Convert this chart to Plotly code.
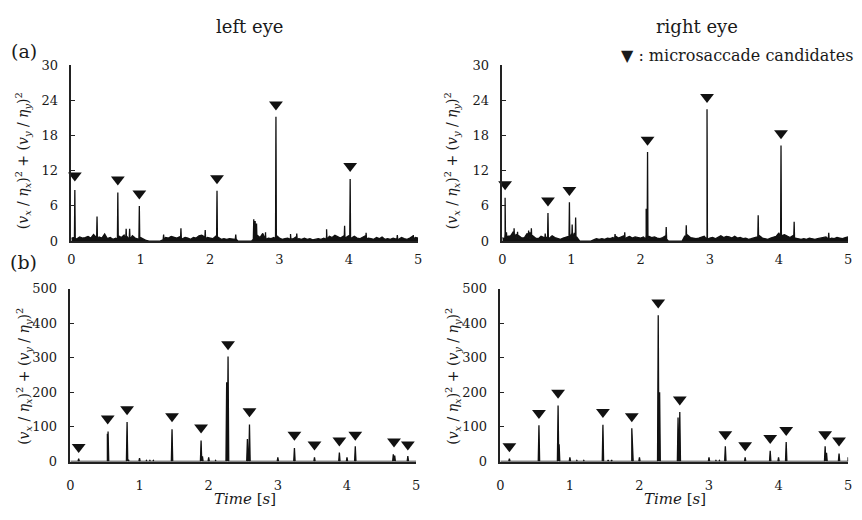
import numpy as np
import plotly.graph_objects as go

# ---------------- data ----------------
GRID_T = np.linspace(0, 5, 126)  # baseline sample times (every 0.04 s)

TL_noise = [0.5, 0.6, 0.4, 0.7, 0.5, 0.6, 0.8, 0.5, 1.1, 0.6, 0.7, 0.5, 1.2, 0.4, 0.6, 0.3,
            0.5, 0.9, 0.6, 1.0, 0.8, 1.2, 0.9, 0.5, 0.4, 0.6, 0.3, 0.1, 0.0, 0.0, 0.0, 0.0,
            0.0, 0.2, 0.6, 0.5, 0.8, 0.6, 0.5, 0.7, 0.4, 0.6, 0.5, 0.3, 0.6, 0.5, 0.9, 1.0,
            0.7, 0.6, 0.5, 0.4, 0.8, 0.6, 0.3, 0.4, 0.3, 0.4, 0.3, 0.2, 0.0, 0.0, 0.0, 0.0,
            0.0, 0.0, 1.2, 1.0, 0.6, 1.3, 1.1, 0.5, 0.4, 0.6, 0.9, 0.5, 0.3, 0.4, 0.5, 0.6,
            0.4, 0.7, 0.4, 0.3, 0.5, 0.3, 0.4, 0.2, 0.3, 0.4, 0.3, 0.5, 0.9, 0.8, 0.6, 1.0,
            0.7, 0.5, 0.8, 0.6, 0.9, 0.5, 0.8, 0.5, 0.4, 0.6, 0.9, 0.5, 0.4, 0.3, 0.6, 0.4,
            0.7, 0.3, 0.4, 0.3, 0.5, 0.4, 0.3, 0.6, 0.4, 0.3, 0.5, 0.8, 0.6, 0.5]
TL_spike_t = [0.05, 0.37, 0.67, 0.79, 0.84, 0.98, 1.33, 1.58, 1.93, 2.10, 2.37, 2.63, 2.65,
              2.67, 2.80, 2.95, 3.16, 3.25, 3.68, 3.94, 4.02, 4.25, 4.70, 4.93]
TL_spike_v = [8.7, 4.2, 8.3, 2.1, 2.1, 6.0, 1.1, 2.2, 1.9, 8.6, 1.1, 3.7, 3.4,
              3.0, 1.5, 21.2, 1.2, 1.3, 2.0, 2.6, 10.6, 1.4, 1.0, 1.0]
TL_cand_t = [0.05, 0.67, 0.98, 2.10, 2.95, 4.02]
TL_cand_y = [11.2, 10.5, 8.1, 10.7, 23.3, 12.8]

TR_noise = [0.6, 1.3, 0.8, 0.9, 1.6, 1.2, 0.9, 0.5, 0.6, 1.3, 1.5, 0.9, 0.5, 0.4, 0.8, 0.6,
            0.7, 0.5, 0.9, 0.6, 0.4, 0.3, 0.5, 0.6, 0.8, 1.2, 1.4, 0.6, 0.0, 0.0, 0.0, 0.0,
            0.0, 0.2, 0.4, 0.3, 0.4, 0.3, 0.5, 0.4, 0.6, 0.8, 0.5, 0.7, 0.9, 0.6, 0.8, 0.5,
            0.7, 0.6, 0.5, 0.7, 1.0, 0.8, 0.6, 0.7, 0.5, 0.4, 0.6, 0.9, 0.0, 0.0, 0.0, 0.0,
            0.0, 0.0, 0.9, 1.0, 0.6, 0.5, 0.4, 0.5, 0.6, 0.8, 0.7, 0.5, 0.6, 0.4, 0.7, 0.9,
            0.6, 0.8, 0.7, 0.5, 0.8, 0.5, 0.6, 0.4, 0.5, 0.3, 0.4, 0.6, 0.7, 0.9, 0.5, 0.4,
            0.3, 0.5, 0.6, 0.8, 1.4, 0.9, 1.1, 0.8, 0.6, 0.9, 0.5, 0.4, 0.3, 0.4, 0.3, 0.5,
            0.4, 0.3, 0.4, 0.5, 0.6, 0.7, 0.9, 0.5, 0.4, 0.6, 0.5, 0.4, 0.6, 0.7]
TR_spike_t = [0.04, 0.06, 0.17, 0.22, 0.38, 0.42, 0.62, 0.66, 0.97, 1.01, 1.06, 1.63, 1.77,
              2.08, 2.10, 2.37, 2.66, 2.96, 3.70, 4.03, 4.22, 4.72]
TR_spike_v = [7.4, 1.5, 2.2, 1.6, 1.8, 2.2, 1.3, 4.8, 6.6, 2.8, 4.0, 1.2, 1.5,
              5.5, 15.2, 2.4, 2.7, 22.5, 4.4, 16.3, 3.3, 1.4]
TR_cand_t = [0.04, 0.66, 0.97, 2.10, 2.96, 4.03]
TR_cand_y = [9.7, 6.9, 8.7, 17.3, 24.6, 18.4]

BL_spike_t = [0.12, 0.535, 0.545, 0.82, 0.84, 1.00, 1.10, 1.15, 1.20, 1.47, 1.89, 1.91, 2.00,
              2.10, 2.26, 2.28, 2.56, 2.59, 3.00, 3.24, 3.53, 3.89, 4.00, 4.12, 4.67, 4.69, 4.88]
BL_spike_v = [8, 80, 87, 114, 5, 10, 3, 3, 3, 93, 61, 15, 12,
              3, 229, 304, 65, 107, 12, 39, 12, 26, 12, 44, 21, 17, 16]
BL_cand_t = [0.12, 0.54, 0.82, 1.47, 1.89, 2.28, 2.59, 3.24, 3.53, 3.89, 4.12, 4.68, 4.88]
BL_cand_y = [42, 124, 151, 131, 98, 339, 145, 77, 49, 61, 77, 58, 49]

BR_spike_t = [0.13, 0.555, 0.83, 0.845, 1.00, 1.10, 1.20, 1.475, 1.55, 1.60, 1.89, 1.90, 2.00,
              2.27, 2.29, 2.555, 2.58, 3.00, 3.10, 3.15, 3.235, 3.52, 3.88, 4.00, 4.11, 4.67,
              4.69, 4.87, 5.00]
BR_spike_v = [8, 105, 162, 50, 12, 3, 3, 106, 4, 4, 96, 40, 12,
              423, 200, 127, 143, 12, 3, 3, 44, 12, 31, 12, 56, 44,
              25, 23, 12]
BR_cand_t = [0.13, 0.555, 0.83, 1.475, 1.89, 2.27, 2.58, 3.235, 3.52, 3.88, 4.11, 4.67, 4.87]
BR_cand_y = [44, 140, 199, 143, 131, 460, 179, 79, 47, 68, 91, 79, 61]

X_TICKS = [0, 1, 2, 3, 4, 5]
Y_TICKS_A = [0, 6, 12, 18, 24, 30]
Y_TICKS_B = [0, 100, 200, 300, 400, 500]

# ---------------- helpers ----------------
def build_series(noise, st, sv, dw, base):
    pts = []
    if noise is not None:
        pts += list(zip(GRID_T.tolist(), noise))
    else:
        pts += [(0.0, 0.0), (5.0, 0.0)]
    for t, v in zip(st, sv):
        pts += [(t - dw, base), (t, v), (t + dw, base)]
    pts.sort()
    return [p[0] for p in pts], [p[1] for p in pts]

SERIF = "DejaVu Serif"
INK = "#1a1a1a"

W, H = 862, 520
def xd(a, b):
    return [a / W, b / W]
def yd(top, bottom):
    return [1 - bottom / H, 1 - top / H]

panels = [
    dict(noise=TL_noise, st=TL_spike_t, sv=TL_spike_v, ct=TL_cand_t, cy=TL_cand_y,
         dw=0.006, base=0.3, xdom=xd(68, 418), ydom=yd(60, 241), yr=[0, 30], yt=Y_TICKS_A),
    dict(noise=TR_noise, st=TR_spike_t, sv=TR_spike_v, ct=TR_cand_t, cy=TR_cand_y,
         dw=0.006, base=0.3, xdom=xd(503, 852), ydom=yd(60, 241), yr=[0, 30], yt=Y_TICKS_A),
    dict(noise=None, st=BL_spike_t, sv=BL_spike_v, ct=BL_cand_t, cy=BL_cand_y,
         dw=0.01, base=0.0, xdom=xd(67, 416), ydom=yd(290, 468), yr=[0, 500], yt=Y_TICKS_B),
    dict(noise=None, st=BR_spike_t, sv=BR_spike_v, ct=BR_cand_t, cy=BR_cand_y,
         dw=0.01, base=0.0, xdom=xd(501, 852), ydom=yd(290, 468), yr=[0, 500], yt=Y_TICKS_B),
]

fig = go.Figure()
layout = dict(
    width=W, height=H, margin=dict(l=0, r=0, t=0, b=0),
    paper_bgcolor="white", plot_bgcolor="white", showlegend=False,
    font=dict(family=SERIF, color=INK, size=13),
)

for i, p in enumerate(panels):
    n = "" if i == 0 else str(i + 1)
    xs, ys = build_series(p["noise"], p["st"], p["sv"], p["dw"], p["base"])
    fig.add_trace(go.Scatter(x=xs, y=ys, mode="lines", line=dict(color="#111", width=1.3),
                             fill="tozeroy", fillcolor="#111",
                             xaxis="x" + n, yaxis="y" + n, hoverinfo="skip"))
    fig.add_trace(go.Scatter(x=p["ct"], y=p["cy"], mode="markers",
                             marker=dict(symbol="triangle-down", size=12, color="#111"),
                             xaxis="x" + n, yaxis="y" + n, cliponaxis=False))
    bottom = i >= 2
    layout["xaxis" + n] = dict(domain=p["xdom"], anchor="y" + n, range=[0, 5],
                               tickvals=X_TICKS, ticks="", showgrid=False, zeroline=False,
                               showline=True, linecolor="#222", linewidth=1.5,
                               tickfont=dict(size=13, family=SERIF, color=INK),
                               ticklabelstandoff=11 if bottom else 6)
    layout["yaxis" + n] = dict(domain=p["ydom"], anchor="x" + n, range=p["yr"],
                               tickvals=p["yt"], ticks="inside", ticklen=4, tickwidth=1,
                               tickcolor="#222", showgrid=False, zeroline=False,
                               showline=True, linecolor="#222", linewidth=1.5,
                               tickfont=dict(size=13, family=SERIF, color=INK),
                               ticklabelstandoff=9)

ytitle = ("(<i>v</i><sub><i>x</i></sub> / <i>η</i><sub><i>x</i></sub>)<sup>2</sup> + "
          "(<i>v</i><sub><i>y</i></sub> / <i>η</i><sub><i>y</i></sub>)<sup>2</sup>")

def ann(x, y, text, size, fam=SERIF, **kw):
    d = dict(x=x / W, y=1 - y / H, xref="paper", yref="paper", text=text, showarrow=False,
             font=dict(size=size, family=fam, color=INK), xanchor="center", yanchor="middle")
    d.update(kw)
    return d

annotations = [
    ann(248, 20, "left eye", 18),
    ann(699, 20, "right eye", 18),
    ann(20, 45, "(a)", 19),
    ann(20, 263, "(b)", 19),
    ann(740, 50, "▼ : microsaccade candidates", 16),
    ann(20, 158, ytitle, 14, textangle=-90),
    ann(453, 158, ytitle, 14, textangle=-90),
    ann(20, 380, ytitle, 14, textangle=-90),
    ann(453, 380, ytitle, 14, textangle=-90),
    ann(243, 507, "<i>Time</i> [<i>s</i>]", 15),
    ann(677, 507, "<i>Time</i> [<i>s</i>]", 15),
]
layout["annotations"] = annotations
fig.update_layout(**layout)
fig.write_html("out.html")
